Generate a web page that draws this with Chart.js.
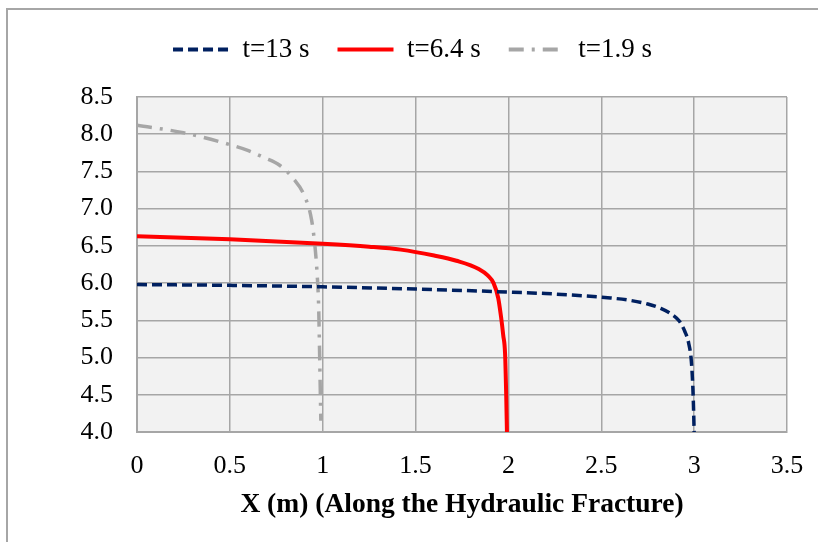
<!DOCTYPE html>
<html>
<head>
<meta charset="utf-8">
<script src="https://cdn.jsdelivr.net/npm/chart.js@4.4.1/dist/chart.umd.min.js"></script>
<style>
  html, body { margin: 0; padding: 0; background: #fff; }
  #wrap { width: 818px; height: 542px; position: relative; }
</style>
</head>
<body>
<div id="wrap"><canvas id="chart" width="818" height="542"></canvas></div>
<script>
// series labels
const seriesNames = ['t=13 s', 't=6.4 s', 't=1.9 s'];

// t=13 s
const x13 = [0, 0.5, 1, 1.5, 2, 2.2, 2.4, 2.55, 2.65, 2.75, 2.82, 2.88, 2.92, 2.95, 2.97, 2.985, 2.993, 2.997, 3.0];
const y13 = [5.98, 5.97, 5.95, 5.92, 5.88, 5.86, 5.83, 5.80, 5.77, 5.72, 5.66, 5.58, 5.49, 5.35, 5.20, 4.95, 4.60, 4.30, 4.0];

// t=6.4 s
const x64 = [0, 0.5, 1, 1.25, 1.42, 1.6, 1.72, 1.84, 1.89, 1.92, 1.945, 1.96, 1.972, 1.982, 1.988, 1.992];
const y64 = [6.63, 6.59, 6.53, 6.49, 6.45, 6.37, 6.30, 6.19, 6.10, 6.00, 5.80, 5.55, 5.30, 5.05, 4.50, 4.0];

// t=1.9 s
const x19 = [0, 0.25, 0.5, 0.6, 0.68, 0.77, 0.84, 0.9, 0.94, 0.96, 0.97, 0.978, 0.983, 0.987, 0.99];
const y19 = [8.12, 8.02, 7.86, 7.78, 7.69, 7.58, 7.41, 7.18, 6.85, 6.45, 6.12, 5.70, 5.10, 4.55, 4.15];

// axis ticks
const xTicks = [0, 0.5, 1, 1.5, 2, 2.5, 3, 3.5];
const yTicks = [4.0, 4.5, 5.0, 5.5, 6.0, 6.5, 7.0, 7.5, 8.0, 8.5];

const toPts = (xs, ys) => xs.map((x, i) => ({ x: x, y: ys[i] }));

const serif = "'Liberation Serif', 'Times New Roman', serif";

// grey plot background + outer frame, some room under the legend,
// and the legend nudged right to sit where the original has it
const backdrop = {
    id: 'backdrop',
    beforeLayout(chart) {
        const lg = chart.legend;
        if (lg && !lg._extra) {
            const fit = lg.fit;
            lg.fit = function () { fit.call(this); this.height += 24; };
            lg._extra = true;
        }
    },
    afterLayout(chart) {
        const lg = chart.legend;
        if (lg) { lg.left += 14; lg.right += 14; }
    },
    beforeDraw(chart) {
        const { ctx, chartArea: a } = chart;
        ctx.save();
        ctx.fillStyle = '#f2f2f2';
        ctx.fillRect(a.left, a.top, a.right - a.left, a.bottom - a.top);
        ctx.strokeStyle = '#a6a6a6';
        ctx.lineWidth = 2;
        ctx.beginPath();
        ctx.moveTo(7, 542);
        ctx.lineTo(7, 9);
        ctx.lineTo(818, 9);
        ctx.stroke();
        ctx.restore();
    }
};

new Chart(document.getElementById('chart'), {
    type: 'scatter',
    data: {
        datasets: [
            {
                label: seriesNames[0],
                data: toPts(x13, y13),
                showLine: true,
                borderColor: '#002060',
                backgroundColor: '#002060',
                borderWidth: 3.5,
                borderDash: [10, 5],
                pointRadius: 0,
                cubicInterpolationMode: 'monotone'
            },
            {
                label: seriesNames[1],
                data: toPts(x64, y64),
                showLine: true,
                borderColor: '#ff0000',
                backgroundColor: '#ff0000',
                borderWidth: 4,
                pointRadius: 0,
                cubicInterpolationMode: 'monotone'
            },
            {
                label: seriesNames[2],
                data: toPts(x19, y19),
                showLine: true,
                borderColor: '#a6a6a6',
                backgroundColor: '#a6a6a6',
                borderWidth: 3.5,
                borderDash: [15, 8, 3, 8],
                pointRadius: 0,
                cubicInterpolationMode: 'monotone'
            }
        ]
    },
    options: {
        responsive: false,
        animation: false,
        layout: { padding: { left: 10, right: 31, top: 8, bottom: 0 } },
        plugins: {
            legend: {
                position: 'top',
                labels: {
                    usePointStyle: true,
                    pointStyle: 'line',
                    pointStyleWidth: 56,
                    padding: 28,
                    color: '#000',
                    font: { family: serif, size: 27 },
                    generateLabels: chart => {
                        const items = Chart.defaults.plugins.legend.labels.generateLabels(chart);
                        items.forEach((it, i) => {
                            const ds = chart.data.datasets[i];
                            it.lineDash = ds.borderDash || [];
                            it.strokeStyle = ds.borderColor;
                            it.lineWidth = 4;
                        });
                        return items;
                    }
                }
            },
            tooltip: { enabled: false }
        },
        scales: {
            x: {
                type: 'linear',
                min: 0,
                max: 3.5,
                afterBuildTicks: s => { s.ticks = xTicks.map(v => ({ value: v })); },
                afterFit: s => { s.height = 110; s.paddingRight = 18; s.paddingLeft = 0; },
                ticks: {
                    color: '#000',
                    padding: 19,
                    font: { family: serif, size: 26 },
                    callback: v => String(v)
                },
                grid: { color: '#a6a6a6', lineWidth: 1.5, drawTicks: false },
                border: { color: '#a6a6a6', width: 2 },
                title: {
                    display: true,
                    text: 'X (m) (Along the Hydraulic Fracture)',
                    color: '#000',
                    font: { family: serif, size: 27.5, weight: 'bold' },
                    padding: { top: 4, bottom: 21 }
                }
            },
            y: {
                type: 'linear',
                min: 4,
                max: 8.5,
                afterBuildTicks: s => { s.ticks = yTicks.map(v => ({ value: v })); },
                afterFit: s => { s.width = 127; },
                ticks: {
                    color: '#000',
                    padding: 24,
                    font: { family: serif, size: 26 },
                    callback: v => v.toFixed(1)
                },
                grid: { color: '#a6a6a6', lineWidth: 1.5, drawTicks: false },
                border: { color: '#a6a6a6', width: 2 }
            }
        }
    },
    plugins: [backdrop]
});
</script>
</body>
</html>
